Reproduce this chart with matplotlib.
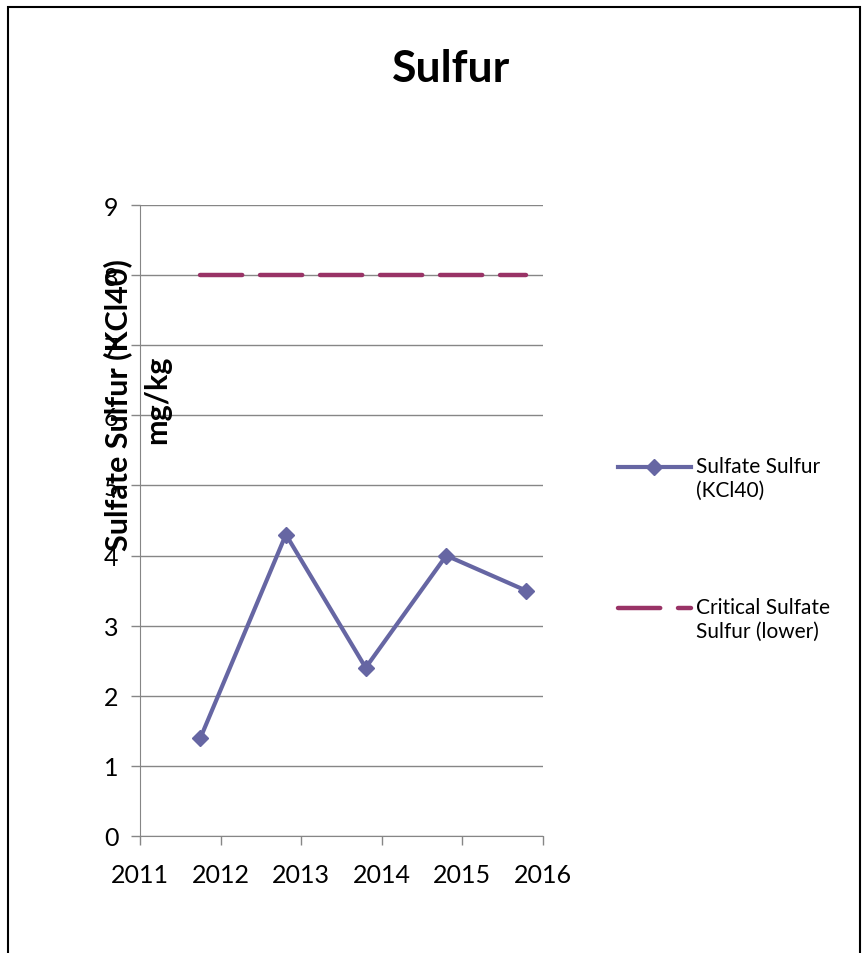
import matplotlib
matplotlib.use('Agg')
from matplotlib import pyplot as plt
from matplotlib.patches import Rectangle

# sample dates as decimal years
years = [2011.75, 2012.81, 2013.80, 2014.80, 2015.79]
sulfate = [1.4, 4.3, 2.4, 4.0, 3.5]
critical = [8, 8, 8, 8, 8]
xticks = [2011, 2012, 2013, 2014, 2015, 2016]
yticks = list(range(0, 10))

plt.rcParams['font.family'] = ['Lato', 'DejaVu Sans']

fig = plt.figure(figsize=(8.68, 9.54), dpi=100)
ax = fig.add_axes([140/868, 1 - 837/954, 403/868, 631/954])

ax.plot(years, sulfate, color='#6666A3', lw=3, marker='D', ms=8,
        label='Sulfate Sulfur\n(KCl40)', zorder=3)
ax.plot(years, critical, color='#993366', lw=3.2, dashes=(9.5, 4),
        dash_capstyle='round', label='Critical Sulfate\nSulfur (lower)', zorder=3)

ax.set_xlim(2011, 2016)
ax.set_ylim(0, 9)
ax.set_xticks(xticks)
ax.set_yticks(yticks)
ax.tick_params(axis='both', labelsize=18, color='#868686', length=6.5, width=1)
ax.tick_params(axis='y', pad=9)
ax.tick_params(axis='x', pad=13)
ax.grid(axis='y', color='#868686', lw=1)
ax.set_axisbelow(True)
for s in ['top', 'right']:
    ax.spines[s].set_visible(False)
for s in ['left', 'bottom']:
    ax.spines[s].set_color('#868686')

fig.text(451/868, 1 - 69/954, 'Sulfur', ha='center', va='center',
         fontsize=32, fontweight='bold')
fig.text(118/868, 1 - 405/954, 'Sulfate Sulfur (KCl40)', rotation=90,
         ha='center', va='center', fontsize=22, fontweight='bold')
fig.text(157/868, 1 - 400/954, 'mg/kg', rotation=90,
         ha='center', va='center', fontsize=22, fontweight='bold')

# tall handle box lifts the handle to the first label line
ax.legend(loc='center left', bbox_to_anchor=(618/868, 1 - 552/954),
          bbox_transform=fig.transFigure, frameon=False, fontsize=15,
          handlelength=3.5, handleheight=4.5, handletextpad=0.25,
          labelspacing=3.6, borderpad=0, borderaxespad=0)

fig.patches.append(Rectangle((8/868, -0.05), 852/868, 1.05 - 8/954,
                             transform=fig.transFigure, fill=False,
                             edgecolor='black', lw=1.5))

fig.savefig('out.png', dpi=100)
